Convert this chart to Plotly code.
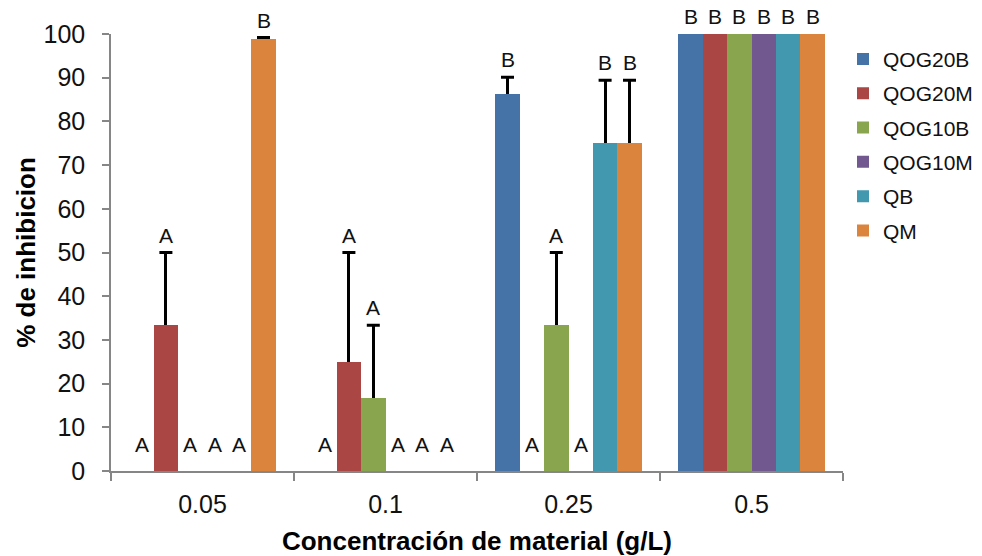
import plotly.graph_objects as go

categories = ["0.05", "0.1", "0.25", "0.5"]
series_names = ["QOG20B", "QOG20M", "QOG10B", "QOG10M", "QB", "QM"]
colors = ["#4572A7", "#AA4643", "#89A54E", "#71588F", "#4198AF", "#DB843D"]

qog20b = [0, 0, 86.3, 100]
qog20m = [33.33, 25, 0, 100]
qog10b = [0, 16.67, 33.33, 100]
qog10m = [0, 0, 0, 100]
qb = [0, 0, 75, 100]
qm = [98.8, 0, 75, 100]

qog20b_err = [0, 0, 3.8, 0]
qog20m_err = [16.67, 25, 0, 0]
qog10b_err = [0, 16.67, 16.67, 0]
qog10m_err = [0, 0, 0, 0]
qb_err = [0, 0, 14.4, 0]
qm_err = [0.4, 0, 14.4, 0]

qog20b_lbl = ["A", "A", "B", "B"]
qog20m_lbl = ["A", "A", "A", "B"]
qog10b_lbl = ["A", "A", "A", "B"]
qog10m_lbl = ["A", "A", "A", "B"]
qb_lbl = ["A", "A", "B", "B"]
qm_lbl = ["B", "A", "B", "B"]

values = [qog20b, qog20m, qog10b, qog10m, qb, qm]
errors = [qog20b_err, qog20m_err, qog10b_err, qog10m_err, qb_err, qm_err]
labels = [qog20b_lbl, qog20m_lbl, qog10b_lbl, qog10m_lbl, qb_lbl, qm_lbl]

FONT = "Liberation Sans, Arial, sans-serif"
n = len(series_names)
gap = 1.5  # Excel gap width
w = 1.0 / (n + gap)

fig = go.Figure()
annotations = []
for j, name in enumerate(series_names):
    xs = [i + (j - (n - 1) / 2) * w for i in range(len(categories))]
    vals = values[j]
    errs = errors[j]
    stem = [e if e > 0 else None for e in errs]
    fig.add_trace(go.Bar(
        x=xs, y=vals, width=w, name=name, marker=dict(color=colors[j], line=dict(width=0)),
        legendgroup=name,
        error_y=dict(type="data", symmetric=False, array=stem,
                     arrayminus=[0 if e else None for e in stem],
                     color="#000000", thickness=3, width=0),
    ))
    # caps only
    tops = [v + e if e > 0 else None for v, e in zip(vals, errs)]
    fig.add_trace(go.Scatter(
        x=xs, y=tops, mode="markers", marker=dict(size=0.1, opacity=0),
        showlegend=False, hoverinfo="skip",
        error_y=dict(type="data", array=[0] * len(xs), color="#000000", thickness=3, width=6.5),
    ))
    for x, v, e, t in zip(xs, vals, errs, labels[j]):
        top = v + e
        annotations.append(dict(
            x=x, y=top, text=t, showarrow=False, xanchor="center", yanchor="bottom",
            yshift=(14 if top == 0 else 5), borderpad=0,
            font=dict(family=FONT, size=21, color="#111111"),
        ))

fig.update_layout(
    width=982, height=556,
    margin=dict(l=103, r=138, t=23, b=93),
    paper_bgcolor="white", plot_bgcolor="white",
    font=dict(family=FONT, size=22, color="#000000"),
    showlegend=True,
    legend=dict(x=1.0, xanchor="left", y=0.989, yanchor="top", xref="paper",
                font=dict(family=FONT, size=21, color="#111111"),
                tracegroupgap=4, itemwidth=30, bgcolor="rgba(0,0,0,0)"),
    annotations=annotations,
    bargap=0,
)
fig.update_xaxes(
    range=[-0.5, len(categories) - 0.5],
    tickmode="array", tickvals=list(range(len(categories))), ticktext=categories,
    ticks="", showgrid=False, zeroline=False,
    showline=True, linecolor="#868686", linewidth=1.5,
    tickfont=dict(family=FONT, size=25, color="#111111"),
    ticklabelstandoff=10,
    minor=dict(tickmode="array", tickvals=[i - 0.5 for i in range(len(categories) + 1)],
               ticks="outside", ticklen=8, tickcolor="#868686", tickwidth=1.5, showgrid=False),
    title=dict(text="<b>Concentración de material (g/L)</b>", standoff=15,
               font=dict(family=FONT, size=26, color="#000000")),
)
fig.update_yaxes(
    range=[0, 100], dtick=10, tick0=0,
    ticks="outside", ticklen=7, tickcolor="#868686", tickwidth=1.5,
    showgrid=False, zeroline=False,
    showline=True, linecolor="#868686", linewidth=1.5,
    tickfont=dict(family=FONT, size=25, color="#111111"),
    ticklabelstandoff=12,
    title=dict(text="<b>% de inhibicion</b>", standoff=0,
               font=dict(family=FONT, size=26, color="#000000")),
)

fig.write_html("out.html")
